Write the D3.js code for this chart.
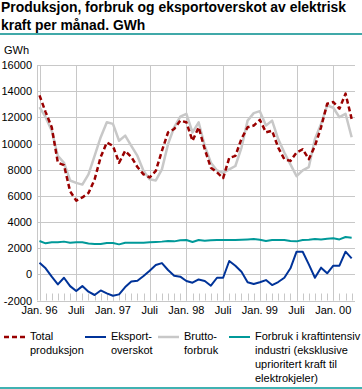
<!DOCTYPE html>
<html>
<head>
<meta charset="utf-8">
<script src="https://cdn.jsdelivr.net/npm/d3@7"></script>
<style>
  body { margin: 0; background: #fff; }
  svg { display: block; font-family: "Liberation Sans", Arial, sans-serif; }
</style>
</head>
<body>
<svg id="chart" width="362" height="389"></svg>
<script>
// Monthly values, Jan 1996 - Apr 2000 (GWh)
var totalProduksjon = [13680, 12400, 11240, 8530, 8350, 6350, 5630, 5880, 6210, 7250, 8970, 10080,
  9820, 8530, 9440, 8970, 8200, 7640, 7410, 7900, 9440, 10850, 11110, 11750,
  11620, 10200, 11240, 9560, 8150, 7790, 7360, 8900, 9050, 10360, 11240, 11370,
  11810, 10850, 10980, 9690, 8800, 8670, 9310, 9560, 8800, 9820, 11240, 13040,
  13170, 12660, 13810, 11880];
var eksportoverskot = [890, 460, -180, -770, -260, -900, -1280, -900, -1330, -1580, -1230, -1450,
  -1640, -1530, -970, -540, -490, -130, 280, 710, 860, 330, -100, -180,
  -510, -640, -390, -510, -870, -260, -260, 1020, 660, 200, -610, -740,
  -610, -440, -820, -590, -260, 460, 1730, 1730, 760, -260, 510, 80,
  660, 660, 1730, 1220];
var bruttoforbruk = [12780, 12010, 10980, 9050, 8530, 7170, 6990, 6860, 7640, 9050, 10480, 11620,
  11500, 10210, 10600, 9820, 9050, 7900, 7260, 7180, 8020, 9950, 11240, 12060,
  12270, 10850, 11620, 9820, 8530, 7940, 7760, 8020, 8280, 9690, 11750, 12320,
  12470, 11370, 11750, 10340, 9310, 8410, 7510, 7950, 8200, 10340, 11500, 12910,
  12730, 12010, 12270, 10480];
var kraftintensiv = [2550, 2370, 2450, 2450, 2500, 2420, 2450, 2450, 2350, 2320, 2320, 2400,
  2400, 2290, 2420, 2420, 2420, 2420, 2450, 2470, 2500, 2550, 2520, 2600,
  2620, 2470, 2620, 2570, 2600, 2620, 2620, 2620, 2620, 2650, 2670, 2700,
  2650, 2550, 2620, 2620, 2620, 2550, 2520, 2620, 2650, 2700, 2670, 2720,
  2750, 2670, 2850, 2800];

var xTickLabels = ["Jan. 96", "Juli", "Jan. 97", "Juli", "Jan. 98", "Juli", "Jan. 99", "Juli", "Jan. 00"];
var yTicks = [-2000, 0, 2000, 4000, 6000, 8000, 10000, 12000, 14000, 16000];

var titleLines = ["Produksjon, forbruk og eksportoverskot av elektrisk", "kraft per månad. GWh"];

var series = [
  { lines: ["Total", "produksjon"], values: totalProduksjon, color: "#990000", width: 2.5, dash: "5,3" },
  { lines: ["Eksport-", "overskot"], values: eksportoverskot, color: "#003399", width: 2, dash: null },
  { lines: ["Brutto-", "forbruk"], values: bruttoforbruk, color: "#c8c8c8", width: 2.5, dash: null },
  { lines: ["Forbruk i kraftintensiv", "industri (eksklusive", "uprioritert kraft til", "elektrokjeler)"], values: kraftintensiv, color: "#009999", width: 2, dash: null }
];

var svg = d3.select("#chart");
var grid = "#c8c8c8";

// Title
svg.append("g").selectAll("text").data(titleLines).enter().append("text")
  .attr("x", 1)
  .attr("y", function (d, i) { return 12 + i * 17.5; })
  .attr("font-size", 13.9)
  .attr("font-weight", "bold")
  .attr("fill", "#000")
  .text(function (d) { return d; });

svg.append("line").attr("x1", 0).attr("x2", 362).attr("y1", 34).attr("y2", 34)
  .attr("stroke", "#008c8c").attr("stroke-width", 1.5);
svg.append("line").attr("x1", 0).attr("x2", 362).attr("y1", 388).attr("y2", 388)
  .attr("stroke", "#009999").attr("stroke-width", 1.5);

svg.append("text").attr("x", 4).attr("y", 54).attr("font-size", 11).text("GWh");

var n = totalProduksjon.length;
var x = d3.scaleLinear().domain([0, 48]).range([39.5, 333.3]);
var y = d3.scaleLinear().domain([-2000, 16000]).range([300.5, 65]);
var left = 37, right = 355;

// Horizontal grid
svg.append("g").selectAll("line").data(yTicks).enter().append("line")
  .attr("x1", left).attr("x2", right)
  .attr("y1", function (d) { return Math.round(y(d)) + 0.5; })
  .attr("y2", function (d) { return Math.round(y(d)) + 0.5; })
  .attr("stroke", grid).attr("stroke-width", 1);

// Vertical grid at Jan / Juli
svg.append("g").selectAll("line").data(xTickLabels).enter().append("line")
  .attr("x1", function (d, i) { return Math.round(x(i * 6)) + 0.5; })
  .attr("x2", function (d, i) { return Math.round(x(i * 6)) + 0.5; })
  .attr("y1", y(16000)).attr("y2", y(-2000))
  .attr("stroke", grid).attr("stroke-width", 1);

// Left axis line
svg.append("line").attr("x1", left + 0.5).attr("x2", left + 0.5)
  .attr("y1", y(16000)).attr("y2", y(-2000)).attr("stroke", grid);

// Monthly minor ticks
svg.append("g").selectAll("line").data(d3.range(n)).enter().append("line")
  .attr("x1", function (d) { return Math.round(x(d)) + 0.5; })
  .attr("x2", function (d) { return Math.round(x(d)) + 0.5; })
  .attr("y1", y(-2000) - 7).attr("y2", y(-2000))
  .attr("stroke", grid);

// Y labels
svg.append("g").selectAll("text").data(yTicks).enter().append("text")
  .attr("x", 32).attr("y", function (d) { return y(d) + 4; })
  .attr("text-anchor", "end").attr("font-size", 11)
  .text(function (d) { return d; });

// X labels
svg.append("g").selectAll("text").data(xTickLabels).enter().append("text")
  .attr("x", function (d, i) { return x(i * 6); })
  .attr("y", 314).attr("text-anchor", "middle").attr("font-size", 11)
  .text(function (d) { return d; });

// Lines (draw gray first, then others)
var order = [2, 3, 1, 0];
order.forEach(function (k) {
  var s = series[k];
  var line = d3.line()
    .x(function (d, i) { return x(i); })
    .y(function (d) { return y(d); });
  svg.append("path").datum(s.values)
    .attr("d", line)
    .attr("fill", "none")
    .attr("stroke", s.color)
    .attr("stroke-width", s.width)
    .attr("stroke-dasharray", s.dash)
    .attr("stroke-linejoin", "round");
});

// Legend
var legendX = [4, 85, 158, 229];
series.forEach(function (s, k) {
  var g = svg.append("g").attr("transform", "translate(" + legendX[k] + ",0)");
  g.append("line").attr("x1", 0).attr("x2", 21).attr("y1", 337).attr("y2", 337)
    .attr("stroke", s.color).attr("stroke-width", s.width)
    .attr("stroke-dasharray", s.dash);
  g.selectAll("text").data(s.lines).enter().append("text")
    .attr("x", 26).attr("y", function (d, i) { return 340 + i * 14; })
    .attr("font-size", 11)
    .text(function (d) { return d; });
});
</script>
</body>
</html>
